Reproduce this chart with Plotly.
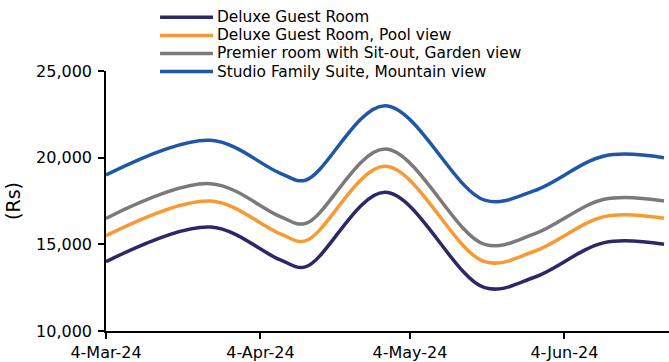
import plotly.graph_objects as go

dates = ["2024-03-04", "2024-03-25", "2024-04-08", "2024-04-13", "2024-04-29",
         "2024-05-19", "2024-05-29", "2024-06-12", "2024-06-24"]

deluxe = [14000, 16000, 14100, 13700, 18000, 12500, 13100, 15100, 15000]
deluxe_pool = [15500, 17500, 15600, 15200, 19500, 14000, 14600, 16600, 16500]
premier = [16500, 18500, 16600, 16200, 20500, 15000, 15600, 17600, 17500]
studio = [19000, 21000, 19100, 18700, 23000, 17550, 18100, 20100, 20000]

series_names = ["Deluxe Guest Room", "Deluxe Guest Room, Pool view",
                "Premier room with Sit-out, Garden view",
                "Studio Family Suite, Mountain view"]
series_values = [deluxe, deluxe_pool, premier, studio]
colors = ["#2C2766", "#F89A33", "#7A7A7A", "#1F56A8"]

tick_dates = ["2024-03-04", "2024-04-04", "2024-05-04", "2024-06-04"]
tick_labels = ["4-Mar-24", "4-Apr-24", "4-May-24", "4-Jun-24"]
y_ticks = [10000, 15000, 20000, 25000]
y_tick_labels = ["10,000", "15,000", "20,000", "25,000"]

FONT = "DejaVu Sans"
FS = 16
LEG_FS = 15.4

fig = go.Figure()
for name, vals, col in zip(series_names, series_values, colors):
    fig.add_trace(go.Scatter(x=dates, y=vals, mode="lines", name=name,
                             line=dict(color=col, width=3.5, shape="spline", smoothing=1.0),
                             showlegend=False))

# custom legend (keys + labels) placed above plot area
leg_x0, leg_x1, leg_tx = 0.096, 0.190, 0.1935
leg_bottom, leg_step = 0.998, 0.0695
n = len(series_names)
for i, (name, col) in enumerate(zip(series_names, colors)):
    yy = leg_bottom + (n - 1 - i) * leg_step
    fig.add_shape(type="line", xref="paper", yref="paper", x0=leg_x0, x1=leg_x1,
                  y0=yy, y1=yy, line=dict(color=col, width=3.5))
    fig.add_annotation(xref="paper", yref="paper", x=leg_tx, y=yy, text=name,
                       showarrow=False, xanchor="left", yanchor="middle",
                       font=dict(family=FONT, size=LEG_FS, color="#000000"))

fig.update_layout(
    width=669, height=362,
    margin=dict(l=106, r=0, t=71, b=29),
    paper_bgcolor="white", plot_bgcolor="white",
    font=dict(family=FONT, size=FS, color="#000000"),
    xaxis=dict(type="date", range=["2024-03-04", "2024-06-25"],
               tickvals=tick_dates, ticktext=tick_labels,
               showgrid=False, zeroline=False, showline=True, linecolor="black",
               linewidth=1.5, ticks="outside", ticklen=6, tickcolor="black", tickwidth=1.5),
    yaxis=dict(range=[10000, 25000], tickvals=y_ticks, ticktext=y_tick_labels,
               showgrid=False, zeroline=False, showline=True, linecolor="black",
               linewidth=1.5, ticks="outside", ticklen=6, tickcolor="black", tickwidth=1.5,
               ticklabelstandoff=3,
               title=dict(text="(Rs)", standoff=10)),
    showlegend=False,
)

fig.write_html("out.html")
